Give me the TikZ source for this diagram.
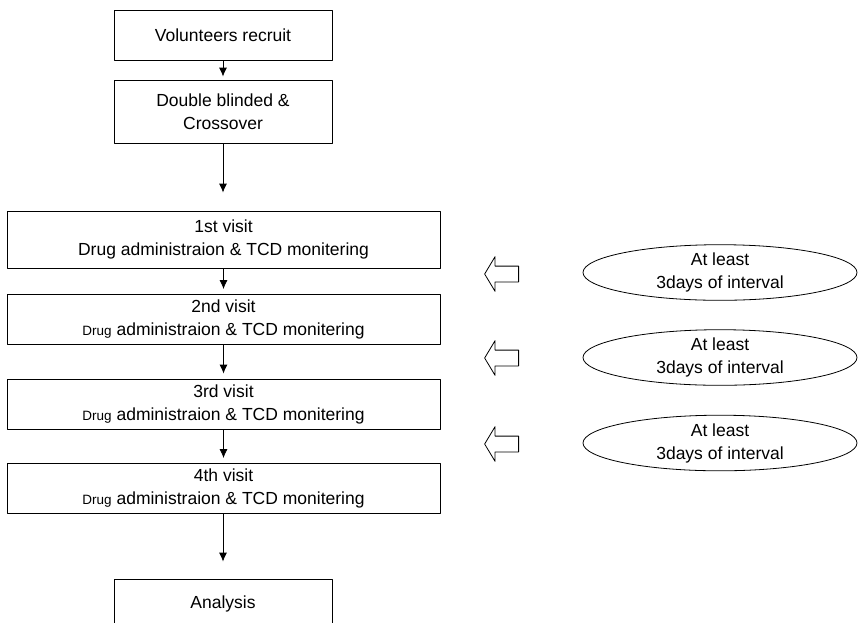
\documentclass[tikz,border=0pt]{standalone}
\usepackage{fontspec}
\setmainfont{Liberation Sans}
\usetikzlibrary{shapes.geometric,shapes.arrows,arrows.meta}
\begin{document}
\begin{tikzpicture}[x=1pt,y=1pt,line join=round,
	font=\fontsize{17.5}{23}\selectfont,
	box/.style={draw,line width=0.8pt,minimum width=218,minimum height=50,align=center,inner sep=2},
	visitbox/.style={box,minimum width=433},
	gapnote/.style={draw,ellipse,line width=0.8pt,minimum width=274,minimum height=44,align=center,inner sep=0},
	hollow/.style={draw,single arrow,shape border rotate=180,line width=0.8pt,
		minimum height=34,single arrow head extend=9.5,
		single arrow tip angle=118,inner xsep=0,inner ysep=7.5,font=\tiny},
	flow/.style={-{Latex[length=9,width=8]},line width=0.8pt}]
	\useasboundingbox (0,0) rectangle (858,-622);
	\newcommand{\drugtext}{{\fontsize{13.5}{23}\selectfont Drug} administraion \& TCD monitering}
	\path(223,-35)node[box](vol){Volunteers recruit}
	++(0,-76.5)node[box,minimum height=63](dbl){Double blinded \&\\Crossover}
	;
	\path(223.5,-239.5)node[visitbox,minimum height=57](v1){1st visit\\Drug administraion \& TCD monitering}
	++(0,-80)node[visitbox](v2){2nd visit\\\drugtext}
	++(0,-84.5)node[visitbox](v3){3rd visit\\\drugtext}
	++(0,-84.5)node[visitbox](v4){4th visit\\\drugtext}
	;
	\path(223,-604)node[box](ana){Analysis};
	\path(720,-272.5)node[gapnote](n1){At least\\3days of interval}
	++(0,-85)node[gapnote](n2){At least\\3days of interval}
	++(0,-85.5)node[gapnote](n3){At least\\3days of interval}
	;
	\path(504,-274)node[hollow](h1){}
	++(0,-84)node[hollow](h2){}
	++(0,-86)node[hollow](h3){};
	\draw[flow,shorten >=3](vol.south)--(dbl.north);
	\draw[flow,shorten >=18](dbl.south)--(v1.north-|dbl.south);
	\draw[flow,shorten >=5](v1.south)--(v2.north);
	\draw[flow,shorten >=5](v2.south)--(v3.north);
	\draw[flow,shorten >=5](v3.south)--(v4.north);
	\draw[flow,shorten >=17](v4.south-|ana.north)--(ana.north);
\end{tikzpicture}
\end{document}
